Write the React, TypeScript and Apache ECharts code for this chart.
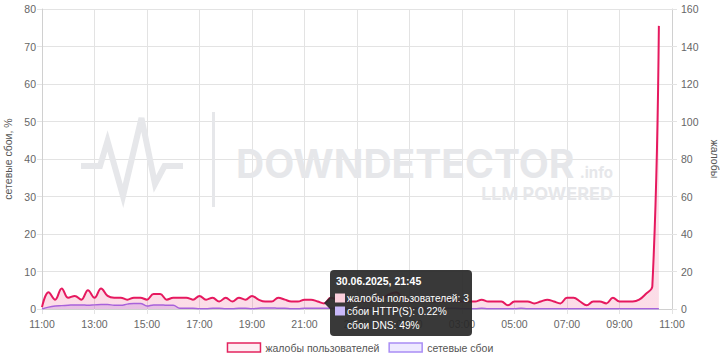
import React, { useEffect, useRef } from "react";
import * as echarts from "echarts";

// 15-minute steps starting 30.06.2025 11:00
const startHour = 11;
const stepsPerHour = 4;
const totalSteps = 97; // 11:00 .. 11:00 next day

const complaints: number[] = [
  1, 9, 5, 11, 6, 7, 5, 10, 6, 11, 7, 6, 6, 5, 6, 6, 5, 8, 8, 5, 6, 6, 6, 5,
  7, 5, 6, 4, 6, 4, 6, 5, 7, 5, 4, 4, 6, 5, 4, 4, 5, 5, 4, 3, 6, 5, 4, 4,
  5, 4, 4, 5, 6, 8, 9, 5, 4, 4, 5, 4, 4, 4, 5, 4, 4, 4, 4, 5, 4, 4, 4, 2,
  4, 4, 4, 3, 4, 5, 4, 3, 6, 6, 4, 2, 4, 4, 3, 6, 4, 4, 4, 5, 8, 12, 151,
];

const networkFailures: number[] = [
  0, 0.5, 0.8, 0.9, 1.0, 1.1, 1.1, 1.0, 1.1, 1.2, 1.2, 1.0, 1.0, 1.3, 1.5, 1.5,
  0.8, 1.1, 1.1, 1.0, 1.0, 0.2, 0.2, 0.2, 0.1, 0.1, 0.2, 0.2, 0.1, 0.1, 0.2,
  0.2, 0.1, 0.2, 0.3, 0.3, 0.2, 0.2, 0.1, 0.1, 0.2, 0.2, 0.2, 0.22, 0.2, 0.2,
  0.1, 0.1, 0.2, 0.2, 0.1, 0.1, 0.2, 0.2, 0.1, 0.1, 0.1, 0.2, 0.2, 0.1, 0.1,
  0.1, 0.2, 0.2, 0.1, 0.1, 0.1, 0.2, 0.1, 0.1, 0.1, 0.1, 0.1, 0.2, 0.1, 0.1,
  0.1, 0.1, 0.1, 0.1, 0.1, 0.1, 0.1, 0.1, 0.1, 0.1, 0.1, 0.1, 0.1, 0.1, 0.1,
  0.1, 0.1, 0.1, 0.1,
];

const leftAxisName = "сетевые сбои, %";
const rightAxisName = "жалобы";
const seriesNames = ["жалобы пользователей", "сетевые сбои"];

const tooltipTitle = "30.06.2025, 21:45";
const tooltipRows = ["жалобы пользователей: 3", "сбои HTTP(S): 0.22%", "сбои DNS: 49%"];

const pad = (n: number) => (n < 10 ? "0" + n : "" + n);
const categories: string[] = [];
for (let i = 0; i < totalSteps; i++) {
  const mins = i * (60 / stepsPerHour);
  const h = (startHour + Math.floor(mins / 60)) % 24;
  const m = mins % 60;
  categories.push(pad(h) + ":" + pad(m));
}

const FONT = "Arial, 'Liberation Sans', sans-serif";
const WM = "#e6e7ea";
const TT_BG = "rgba(40,40,40,0.92)";

export default function App() {
  const ref = useRef<HTMLDivElement>(null);
  useEffect(() => {
    if (!ref.current) return;
    const chart = echarts.init(ref.current, undefined, { renderer: "svg" });
    const gridColor = "#e3e3e3";
    const axisLineColor = "#d0d0d0";
    chart.setOption({
      animation: false,
      textStyle: { fontFamily: FONT },
      grid: { left: 42, right: 48, top: 9, bottom: 51, containLabel: false, outerBoundsMode: "none" },
      legend: {
        top: 337,
        left: "center",
        icon: "rect",
        itemWidth: 33,
        itemHeight: 9,
        itemGap: 9,
        textStyle: { fontSize: 10.5, color: "#555", fontFamily: FONT },
        data: [
          { name: seriesNames[0], itemStyle: { color: "#fdeef3", borderColor: "#e3245f", borderWidth: 1.5 } },
          { name: seriesNames[1], itemStyle: { color: "#eeeaff", borderColor: "#a98df5", borderWidth: 1.5 } },
        ],
      },
      xAxis: {
        type: "category",
        boundaryGap: false,
        data: categories,
        axisLine: { lineStyle: { color: axisLineColor } },
        axisTick: { show: true, interval: 7, length: 5, lineStyle: { color: gridColor } },
        axisLabel: { interval: 7, color: "#666", fontSize: 10.5, margin: 9, fontFamily: FONT },
        splitLine: { show: true, interval: 7, lineStyle: { color: gridColor } },
      },
      yAxis: [
        {
          type: "value",
          min: 0,
          max: 80,
          interval: 10,
          position: "left",
          name: leftAxisName,
          nameLocation: "middle",
          nameGap: 27,
          nameTextStyle: { color: "#555", fontSize: 10.5, fontFamily: FONT },
          axisLine: { show: true, lineStyle: { color: axisLineColor } },
          axisTick: { show: true, length: 5, lineStyle: { color: gridColor } },
          axisLabel: { color: "#666", fontSize: 10.5, margin: 6, fontFamily: FONT },
          splitLine: { show: true, lineStyle: { color: gridColor } },
        },
        {
          type: "value",
          min: 0,
          max: 160,
          interval: 20,
          position: "right",
          name: rightAxisName,
          nameLocation: "middle",
          nameGap: 34,
          nameRotate: -90,
          nameTextStyle: { color: "#555", fontSize: 10.5, fontFamily: FONT },
          axisLine: { show: true, lineStyle: { color: axisLineColor } },
          axisTick: { show: true, length: 5, lineStyle: { color: gridColor } },
          axisLabel: { color: "#666", fontSize: 10.5, margin: 9, fontFamily: FONT },
          splitLine: { show: false },
        },
      ],
      series: [
        {
          name: seriesNames[1],
          type: "line",
          yAxisIndex: 0,
          data: networkFailures,
          smooth: 0.4,
          symbol: "none",
          z: 3,
          lineStyle: { color: "#9c6ef0", width: 1.5 },
          itemStyle: { color: "#a98df5" },
          areaStyle: { color: "rgba(160,120,240,0.35)" },
        },
        {
          name: seriesNames[0],
          type: "line",
          yAxisIndex: 1,
          data: complaints,
          smooth: 0.4,
          symbol: "none",
          z: 4,
          lineStyle: { color: "#e6195f", width: 2 },
          itemStyle: { color: "#e3245f" },
          areaStyle: {
            color: new echarts.graphic.LinearGradient(0, 0, 0, 1, [
              { offset: 0, color: "rgba(233,30,99,0.12)" },
              { offset: 1, color: "rgba(233,30,99,0.22)" },
            ]),
          },
        },
      ],
      graphic: [
        {
          type: "polyline",
          silent: true,
          z: 1,
          shape: {
            points: [
              [81, 166], [100, 166], [107.5, 141], [123, 196], [141.5, 118],
              [155, 184], [164.5, 166], [183, 166],
            ],
          },
          style: { stroke: WM, lineWidth: 6, fill: null, lineJoin: "miter" },
        },
        {
          type: "rect",
          silent: true,
          z: 1,
          shape: { x: 212, y: 112, width: 3, height: 95 },
          style: { fill: WM },
        },
        {
          type: "text",
          silent: true,
          z: 1,
          x: 236,
          y: 163,
          style: {
            text: "DOWNDETECTOR",
            font: "bold 39px Inter, 'Liberation Sans', Arial, sans-serif",
            fill: WM,
            verticalAlign: "middle",
          },
        },
        {
          type: "text",
          silent: true,
          z: 1,
          x: 613,
          y: 172,
          style: {
            text: ".info",
            font: "bold 15px Inter, 'Liberation Sans', Arial, sans-serif",
            fill: WM,
            align: "right",
            verticalAlign: "middle",
          },
        },
        {
          type: "text",
          silent: true,
          z: 1,
          x: 613,
          y: 193,
          style: {
            text: "LLM POWERED",
            font: "bold 18px Inter, 'Liberation Sans', Arial, sans-serif",
            fill: WM,
            align: "right",
            verticalAlign: "middle",
          },
        },
        {
          type: "rect",
          silent: true,
          z: 100,
          shape: { x: 330, y: 270, width: 142, height: 66, r: 4 },
          style: { fill: TT_BG },
        },
        {
          type: "polygon",
          silent: true,
          z: 100,
          shape: { points: [[330, 297], [324, 303], [330, 309]] },
          style: { fill: TT_BG },
        },
        {
          type: "text",
          silent: true,
          z: 101,
          x: 336,
          y: 281,
          style: { text: tooltipTitle, font: "bold 10.5px " + FONT, fill: "#fff", verticalAlign: "middle" },
        },
        {
          type: "rect",
          silent: true,
          z: 101,
          shape: { x: 335, y: 293.5, width: 10, height: 9 },
          style: { fill: "#fbcfdc" },
        },
        {
          type: "text",
          silent: true,
          z: 101,
          x: 347,
          y: 298,
          style: { text: tooltipRows[0], font: "10.2px " + FONT, fill: "#fff", verticalAlign: "middle" },
        },
        {
          type: "rect",
          silent: true,
          z: 101,
          shape: { x: 335, y: 306.5, width: 10, height: 9 },
          style: { fill: "#c9b9fa" },
        },
        {
          type: "text",
          silent: true,
          z: 101,
          x: 347,
          y: 311,
          style: { text: tooltipRows[1], font: "10.2px " + FONT, fill: "#fff", verticalAlign: "middle" },
        },
        {
          type: "text",
          silent: true,
          z: 101,
          x: 347,
          y: 325,
          style: { text: tooltipRows[2], font: "10.2px " + FONT, fill: "#fff", verticalAlign: "middle" },
        },
      ],
    });
    return () => chart.dispose();
  }, []);
  return <div ref={ref} style={{ width: 720, height: 360, position: "absolute", left: 0, top: 0 }} />;
}
